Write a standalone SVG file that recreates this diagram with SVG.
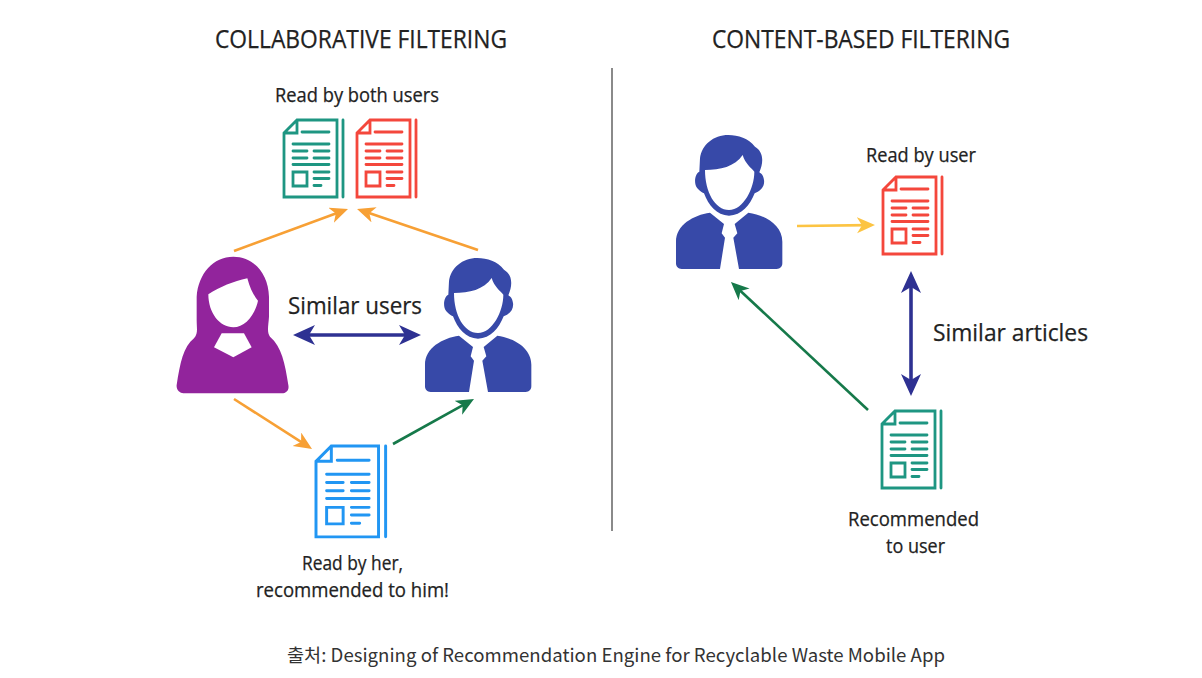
<svg xmlns="http://www.w3.org/2000/svg" xmlns:xlink="http://www.w3.org/1999/xlink" width="1202" height="678" viewBox="0 0 1202 678">
<style>
text{font-family:"Open Sans","Noto Sans","Liberation Sans",sans-serif;fill:#222;stroke:#222;stroke-width:.25;text-anchor:start}
.title{font-size:25px}
.label{font-size:19.5px}
.big{font-size:24.5px}
.cap{font-family:"Noto Sans CJK KR","Noto Sans",sans-serif;font-size:18.6px;fill:#333;stroke:none}
.doc{fill:none;stroke-width:2.8;stroke-linecap:round}
.a{fill:none;stroke-width:2.6}
.o{stroke:#f7a035}.g{stroke:#16794a}.y{stroke:#fcc443}.n{stroke:#2e3192;stroke-width:3.6}
</style>
<defs>
<marker id="ao" markerUnits="userSpaceOnUse" markerWidth="24" markerHeight="18" refX="10" refY="8" orient="auto"><path d="M0 0L18 8L0 16L5 8Z" fill="#f7a035"/></marker>
<marker id="ag" markerUnits="userSpaceOnUse" markerWidth="24" markerHeight="18" refX="10" refY="8" orient="auto"><path d="M0 0L18 8L0 16L5 8Z" fill="#16794a"/></marker>
<marker id="ay" markerUnits="userSpaceOnUse" markerWidth="24" markerHeight="18" refX="10" refY="8" orient="auto"><path d="M0 0L18 8L0 16L5 8Z" fill="#fcc443"/></marker>
<marker id="an" markerUnits="userSpaceOnUse" markerWidth="24" markerHeight="22" refX="12" refY="10" orient="auto-start-reverse"><path d="M0 0L22 10L0 20L6 10Z" fill="#2e3192"/></marker>
<g id="docshape">
<path d="M0 13L13 0H53V77H0ZM13 0V13H0"/>
<path d="M59 0V77M18 12H45M9 24H45M9 31H23M30 31H45M9 38H23M30 38H45M9 44.500H45M9 52H23V66H9ZM30 52H45M30 58.500H45M30 65.500H37"/>
</g>
<g id="man">
<path fill="#3749a8" d="M205 30C160 30 125 60 120 100L118 140C105 145 100 175 112 190C120 200 128 203 132 205C145 240 170 272 207 272C245 272 270 240 284 205C300 200 315 185 312 165C310 150 303 145 298 142C312 110 310 80 285 65C265 40 235 30 205 30Z"/>
<path fill="#fff" d="M135 135C180 135 225 125 248 90C255 115 275 130 283 140C283 190 250 255 207 255C165 255 135 200 135 135Z"/>
<path fill="#3749a8" d="M150 263L192 297L185 325L195 338L180 432H65C55 432 48 425 48 415V350C48 300 100 270 150 263Z"/>
<path fill="#3749a8" d="M265 263L224 297L232 325L220 338L237 432H350C360 432 367 425 367 415V350C367 300 315 270 265 263Z"/>
</g>
</defs>
<rect width="1202" height="678" fill="#fff"/>
<g id="titles">
<text class="title" x="215" y="48" textLength="292" lengthAdjust="spacingAndGlyphs">COLLABORATIVE FILTERING</text>
<text class="title" x="712" y="48" textLength="298" lengthAdjust="spacingAndGlyphs">CONTENT-BASED FILTERING</text>
</g>
<line id="divider" x1="612" y1="68" x2="612" y2="531" stroke="#8a8a8a" stroke-width="2"/>
<g id="connectors">
<line class="a o" x1="234" y1="251" x2="340.500" y2="211.800" marker-end="url(#ao)"/>
<line class="a o" x1="478" y1="250" x2="364.600" y2="211.600" marker-end="url(#ao)"/>
<line class="a o" x1="234" y1="399" x2="305.300" y2="444.700" marker-end="url(#ao)"/>
<line class="a g" x1="393" y1="444" x2="467" y2="402.900" marker-end="url(#ag)"/>
<line class="a y" x1="797" y1="226" x2="867" y2="225.100" marker-end="url(#ay)"/>
<line class="a g" x1="868" y1="410" x2="736.800" y2="287.500" marker-end="url(#ag)"/>
<line class="a n" x1="303" y1="335" x2="411" y2="335" marker-start="url(#an)" marker-end="url(#an)"/>
<line class="a n" x1="911" y1="281" x2="911" y2="386" marker-start="url(#an)" marker-end="url(#an)"/>
</g>
<g id="doc-both-teal"><use xlink:href="#docshape" href="#docshape" class="doc" stroke="#1e9682" transform="translate(284,120)"/></g>
<g id="doc-both-red"><use xlink:href="#docshape" href="#docshape" class="doc" stroke="#f4473c" transform="translate(357,120)"/></g>
<g id="label-both"><text class="label" x="275" y="102" textLength="164" lengthAdjust="spacingAndGlyphs">Read by both users</text></g>
<g id="woman" transform="translate(170,240) scale(.33333)">
<path fill="#92249c" d="M190 50C130 50 85 100 80 170L80 240C80 265 85 280 72 295C40 320 30 370 20 435C18 450 30 460 40 460H335C350 460 358 450 355 435C345 370 335 320 300 290C290 275 295 260 297 230V170C295 100 250 50 190 50Z"/>
<path fill="#fff" d="M115 163C150 140 190 125 232 115C240 145 250 165 264 182C255 225 225 262 190 262C150 262 115 220 115 163Z"/>
<path fill="#fff" d="M155 280H222L245 322L190 352L132 322Z"/>
</g>
<g id="man-left"><use xlink:href="#man" href="#man" transform="translate(409,248) scale(.33333)"/></g>
<g id="label-similar-users"><text class="big" x="288" y="314" textLength="134" lengthAdjust="spacingAndGlyphs">Similar users</text></g>
<g id="doc-her"><use xlink:href="#docshape" href="#docshape" class="doc" stroke="#2196f3" style="stroke-width:2.5" transform="translate(316,446) scale(1.18)"/></g>
<g id="label-her">
<text class="label" x="302" y="570" textLength="101" lengthAdjust="spacingAndGlyphs">Read by her,</text>
<text class="label" x="256" y="597" textLength="193" lengthAdjust="spacingAndGlyphs">recommended to him!</text>
</g>
<g id="man-right"><use xlink:href="#man" href="#man" transform="translate(660,125) scale(.33333)"/></g>
<g id="label-read-user"><text class="label" x="866" y="162" textLength="110" lengthAdjust="spacingAndGlyphs">Read by user</text></g>
<g id="doc-user-red"><use xlink:href="#docshape" href="#docshape" class="doc" stroke="#f4473c" transform="translate(883,177)"/></g>
<g id="label-similar-articles"><text class="big" x="933" y="341" textLength="155" lengthAdjust="spacingAndGlyphs">Similar articles</text></g>
<g id="doc-rec-teal"><use xlink:href="#docshape" href="#docshape" class="doc" stroke="#1e9682" transform="translate(882,411)"/></g>
<g id="label-recommended">
<text class="label" x="848" y="526" textLength="131" lengthAdjust="spacingAndGlyphs">Recommended</text>
<text class="label" x="886" y="553" textLength="59" lengthAdjust="spacingAndGlyphs">to user</text>
</g>
<g id="caption"><text class="cap" x="287" y="662" textLength="658" lengthAdjust="spacing">출처: Designing of Recommendation Engine for Recyclable Waste Mobile App</text></g>
</svg>
